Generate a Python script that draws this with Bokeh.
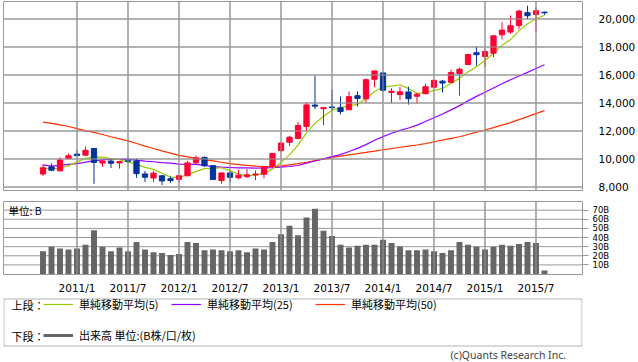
from bokeh.plotting import figure
from bokeh.layouts import column
from bokeh.models import (ColumnDataSource, Range1d, FixedTicker, NumeralTickFormatter,
                          PrintfTickFormatter, Legend, LegendItem, Label, Grid,
                          BoxAnnotation)
from bokeh.core.properties import value
from bokeh.embed import file_html
from bokeh.resources import INLINE

# ---------------- data (monthly) ----------------
months = ["2010/9", "2010/10", "2010/11", "2010/12",
          "2011/1", "2011/2", "2011/3", "2011/4", "2011/5", "2011/6",
          "2011/7", "2011/8", "2011/9", "2011/10", "2011/11", "2011/12",
          "2012/1", "2012/2", "2012/3", "2012/4", "2012/5", "2012/6",
          "2012/7", "2012/8", "2012/9", "2012/10", "2012/11", "2012/12",
          "2013/1", "2013/2", "2013/3", "2013/4", "2013/5", "2013/6",
          "2013/7", "2013/8", "2013/9", "2013/10", "2013/11", "2013/12",
          "2014/1", "2014/2", "2014/3", "2014/4", "2014/5", "2014/6",
          "2014/7", "2014/8", "2014/9", "2014/10", "2014/11", "2014/12",
          "2015/1", "2015/2", "2015/3", "2015/4", "2015/5", "2015/6",
          "2015/7", "2015/8"]

opens = [8927, 9441, 9154, 10030, 10352, 10274, 10754, 9708, 9850, 9719,
         9873, 9860, 8931, 8640, 8800, 8597, 8549, 8797, 9725, 10110,
         9526, 8461, 9003, 8660, 8740, 8862, 8912, 9479, 10604, 11191,
         11469, 12330, 13850, 13593, 13720, 13661, 13520, 14520, 14300, 15693,
         16147, 14750, 14600, 14791, 14485, 14661, 15131, 15560, 15476, 16100,
         16750, 17590, 17325, 17557, 18871, 19068, 19531, 20450, 20329, 20490]
highs = [9626, 9691, 10115, 10394, 10620, 10891, 10768, 9890, 10017, 9845,
         10137, 10040, 9147, 9152, 8857, 8758, 8866, 9866, 10255, 10190,
         9528, 9010, 9137, 9223, 9288, 9179, 9459, 10433, 11167, 11662,
         12650, 14034, 15942, 13711, 14953, 14466, 14817, 14828, 15749, 16320,
         16164, 15050, 15160, 15164, 14710, 15376, 15646, 15650, 16375, 16533,
         17520, 18030, 17865, 18810, 19778, 20252, 20655, 20952, 20841, 20520]
lows = [8796, 9123, 9123, 10026, 10210, 10216, 8227, 9441, 9351, 9318,
        9696, 8656, 8359, 8343, 8135, 8296, 8349, 8796, 9653, 9447,
        8542, 8238, 8328, 8547, 8659, 8488, 8619, 9380, 10486, 10926,
        11405, 12003, 13556, 12415, 13500, 13188, 13500, 13748, 13995, 15140,
        14826, 13995, 14200, 13885, 13964, 14659, 15088, 14753, 15427, 14529,
        16720, 16672, 16592, 17271, 18553, 18935, 19258, 19990, 19115, 20300]
closes = [9369, 9202, 9937, 10229, 10238, 10624, 9755, 9850, 9694, 9816,
          9833, 8955, 8700, 8988, 8435, 8455, 8803, 9723, 10084, 9521,
          8543, 9007, 8695, 8840, 8870, 8928, 9446, 10395, 11139, 11559,
          12398, 13861, 13775, 13677, 13668, 13389, 14456, 14328, 15662, 16291,
          14915, 14841, 14800, 14304, 14632, 15162, 15621, 15425, 16174, 16414,
          17460, 17451, 17674, 18798, 19207, 19520, 20563, 20236, 20585, 20440]

ma5 = [9376, 9263, 9374, 9512, 9795, 10046, 10157, 10139, 10032, 9948,
       9790, 9630, 9400, 9258, 8982, 8707, 8676, 8881, 9100, 9317,
       9335, 9376, 9170, 8921, 8791, 8868, 8956, 9296, 9756, 10293,
       10987, 11870, 12546, 13054, 13476, 13674, 13793, 13904, 14301, 14825,
       15130, 15207, 15302, 15030, 14698, 14748, 14904, 15029, 15403, 15759,
       16219, 16585, 17035, 17559, 18118, 18530, 19152, 19665, 20022, 20269]
ma25 = [9578, 9496, 9550, 9619, 9674, 9779, 9867, 9936, 9971, 9983,
        9978, 9922, 9850, 9804, 9740, 9704, 9635, 9616, 9614, 9551,
        9451, 9420, 9393, 9365, 9367, 9349, 9359, 9377, 9413, 9466,
        9537, 9702, 9859, 10018, 10172, 10314, 10534, 10759, 11026, 11341,
        11599, 11840, 12045, 12213, 12418, 12683, 12947, 13216, 13510, 13812,
        14153, 14473, 14764, 15071, 15376, 15661, 15929, 16188, 16464, 16735]
ma50 = [12635, 12540, 12442, 12320, 12170, 12030, 11900, 11750, 11590, 11440,
        11290, 11110, 10920, 10750, 10575, 10420, 10260, 10150, 10040, 9960,
        9870, 9770, 9670, 9600, 9540, 9490, 9450, 9460, 9510, 9580,
        9670, 9770, 9880, 9990, 10110, 10210, 10300, 10390, 10470, 10560,
        10660, 10740, 10840, 10920, 11000, 11100, 11230, 11350, 11470, 11589,
        11751, 11916, 12071, 12242, 12421, 12599, 12815, 13023, 13241, 13453]

volume = [25, 30, 28, 27, 28, 32, 48, 30, 25, 29,
          25, 35, 27, 24, 23, 21, 22, 35, 34, 26,
          27, 26, 25, 26, 24, 28, 27, 35, 43.5, 53,
          42.5, 62, 71.6, 47.4, 41.6, 32, 29, 31, 32, 32,
          37.7, 34, 30, 26, 26, 27, 25, 23, 26, 35,
          32, 30, 27, 30, 32, 31, 33, 35, 34, 4]

tick_labels = ["2011/1", "2011/7", "2012/1", "2012/7", "2013/1",
               "2013/7", "2014/1", "2014/7", "2015/1", "2015/7"]
price_ticks = [8000, 10000, 12000, 14000, 16000, 18000, 20000]
volume_ticks = [10, 20, 30, 40, 50, 60, 70]

# ---------------- styles ----------------
UP = "#FF0033"
DOWN = "#003399"
C_MA5 = "#99CC00"
C_MA25 = "#9900FF"
C_MA50 = "#FF3300"
C_VOL = "#666666"
GRID = "#999999"
JP = "Noto Sans CJK JP"
XMIN, XMAX = -4.647, 63.471
P_MIN, P_MAX = 7750, 21250
V_MIN, V_MAX = -0.5, 79.5
FRAME_W, P_H, V_H = 579, 189, 80
X_PX = (XMAX - XMIN) / FRAME_W      # one pixel in month units
P_PX = (P_MAX - P_MIN) / P_H        # one pixel in price units
V_PX = (V_MAX - V_MIN) / V_H        # one pixel in volume units

xs = list(range(len(months)))
colors = [UP if c >= o else DOWN for o, c in zip(opens, closes)]
src = ColumnDataSource(dict(
    x=xs, high=highs, low=lows,
    top=[max(o, c) for o, c in zip(opens, closes)],
    bottom=[min(o, c) for o, c in zip(opens, closes)],
    color=colors, ma5=ma5, ma25=ma25, ma50=ma50, vol=volume))
xt = [months.index(t) for t in tick_labels]

xr = Range1d(XMIN, XMAX)


def drop_auto_grids(p):
    p.center = [r for r in p.center if not isinstance(r, Grid)]


def rules(p, yticks, y_lo, y_hi, y_px, horizontal=True):
    # 1-px tick-aligned rules drawn as thin filled bars, under the data
    xv = list(xt)
    p.vbar(x=xv, width=X_PX, bottom=y_lo, top=y_hi, fill_color=GRID, line_color=None)
    if horizontal:
        yv = list(yticks)
        p.hbar(y=yv, height=y_px, left=XMIN, right=XMAX, fill_color=GRID, line_color=None)
    # same rules once more as polylines on the overlay level (identical pixels)
    mx = [[t, t] for t in xt]
    my = [[y_lo + y_px / 2, y_hi - y_px / 2] for _ in xt]
    if horizontal:
        mx += [[XMIN + X_PX / 2, XMAX - X_PX / 2] for _ in yticks]
        my += [[t, t] for t in yticks]
    p.multi_line(xs=mx, ys=my, line_color=GRID, line_width=1, level="overlay")


# ---------------- price panel ----------------
p1 = figure(width=638, height=196, x_range=xr, y_range=Range1d(P_MIN, P_MAX),
            output_backend="svg", toolbar_location=None,
            x_axis_location=None, y_axis_location="right",
            min_border_left=3, min_border_right=56, min_border_top=1, min_border_bottom=6,
            background_fill_color=None, border_fill_color=None,
            outline_line_color=GRID, outline_line_width=1)
drop_auto_grids(p1)
rules(p1, price_ticks, P_MIN, P_MAX, P_PX)
ya = p1.yaxis[0]
ya.ticker = FixedTicker(ticks=list(price_ticks))
ya.formatter = NumeralTickFormatter(format="0,0")
ya.axis_line_color = None
ya.major_tick_line_color = None
ya.minor_tick_line_color = None
ya.major_label_standoff = 10
ya.major_label_text_font = "DejaVu Sans"
ya.major_label_text_font_size = "10.5px"
ya.major_label_text_color = "#000000"

p1.line("x", "ma50", source=src, line_color=C_MA50, line_width=1.2)
p1.line("x", "ma25", source=src, line_color=C_MA25, line_width=1.2)
p1.line("x", "ma5", source=src, line_color=C_MA5, line_width=1.2)
p1.segment(x0="x", y0="low", x1="x", y1="high", source=src, line_color="color", line_width=1)
p1.vbar(x="x", top="top", bottom="bottom", width=0.62, source=src,
        fill_color="color", line_color="color", line_width=1)

# ---------------- volume panel ----------------
p2 = figure(width=638, height=100, x_range=xr, y_range=Range1d(V_MIN, V_MAX),
            output_backend="svg", toolbar_location=None,
            x_axis_location="below", y_axis_location="right",
            min_border_left=3, min_border_right=56, min_border_top=5, min_border_bottom=15,
            background_fill_color=None, border_fill_color=None,
            outline_line_color=GRID, outline_line_width=1)
drop_auto_grids(p2)
p2.segment(x0=[XMIN] * len(volume_ticks), x1=[XMAX] * len(volume_ticks),
           y0=list(volume_ticks), y1=list(volume_ticks), line_color=GRID, line_width=1)
rules(p2, volume_ticks, V_MIN, V_MAX, V_PX, horizontal=False)
xa = p2.xaxis[0]
xa.ticker = FixedTicker(ticks=list(xt))
xa.major_label_overrides = {i: t for i, t in zip(xt, tick_labels)}
xa.axis_line_color = None
xa.major_tick_line_color = None
xa.minor_tick_line_color = None
xa.major_label_standoff = 1
xa.major_label_text_font = "DejaVu Sans"
xa.major_label_text_font_size = "10.5px"
xa.major_label_text_color = "#000000"
va = p2.yaxis[0]
va.ticker = FixedTicker(ticks=list(volume_ticks))
va.formatter = PrintfTickFormatter(format="%dB")
va.axis_line_color = None
va.major_tick_line_color = GRID
va.major_tick_in = 0
va.major_tick_out = 6
va.minor_tick_line_color = None
va.major_label_standoff = 4
va.major_label_text_font = "DejaVu Sans"
va.major_label_text_font_size = "8.5px"
va.major_label_text_color = "#000000"

p2.vbar(x="x", top="vol", bottom=0, width=0.7, source=src, fill_color=C_VOL, line_color=None)
p2.add_layout(Label(x=XMIN, y=70, x_offset=5, text="単位: B", text_baseline="middle",
                    text_font=JP, text_font_size="10.5px", text_color="#000000"))

# ---------------- legend panel ----------------
p3 = figure(width=638, height=65, x_range=Range1d(0, 632), y_range=Range1d(0, 65),
            output_backend="svg", toolbar_location=None,
            x_axis_location=None, y_axis_location=None,
            min_border_left=3, min_border_right=3, min_border_top=0, min_border_bottom=0,
            background_fill_color=None, border_fill_color=None, outline_line_color=None)
drop_auto_grids(p3)
p3.add_layout(BoxAnnotation(left=0.5, right=631.5, bottom=15.5, top=62.5,
                            fill_alpha=0, line_color="#000000", line_width=1))
# stand-in renderers (kept off-screen) that only provide the legend swatches
r5 = p3.line(x=[-50, -40], y=[-50, -50], line_color=C_MA5, line_width=1.2)
r25 = p3.line(x=[-50, -40], y=[-50, -50], line_color=C_MA25, line_width=1.2)
r50 = p3.line(x=[-50, -40], y=[-50, -50], line_color=C_MA50, line_width=1.2)
rv = p3.line(x=[-50, -40], y=[-50, -50], line_color=C_VOL, line_width=3)


def add_leg(renderer, label, x, y):
    lg = Legend(items=[LegendItem(label=value(label), renderers=[renderer])],
                location=(x, y), orientation="horizontal", padding=0, margin=0, spacing=0,
                glyph_width=30, glyph_height=12, label_height=12, label_standoff=6,
                label_text_font=JP, label_text_font_size="11px", label_text_color="#000000",
                border_line_color=None, background_fill_alpha=0)
    p3.add_layout(lg)


ROW1, ROW2 = 57.0, 25.3
LEG_HALF = 7.5
add_leg(r5, "単純移動平均(5)", 40, ROW1 - LEG_HALF)
add_leg(r25, "単純移動平均(25)", 168, ROW1 - LEG_HALF)
add_leg(r50, "単純移動平均(50)", 312, ROW1 - LEG_HALF)
add_leg(rv, "出来高 単位:(B株/口/枚)", 40, ROW2 - LEG_HALF)
p3.add_layout(Label(x=8.7, y=ROW1, text="上段：", text_baseline="middle",
                    text_font=JP, text_font_size="11px", text_color="#000000"))
p3.add_layout(Label(x=8.7, y=ROW2, text="下段：", text_baseline="middle",
                    text_font=JP, text_font_size="11px", text_color="#000000"))
p3.add_layout(Label(x=614, y=7, text="(c)Quants Research Inc.", text_align="right",
                    text_baseline="alphabetic", text_font="Noto Sans", text_font_size="10.5px",
                    text_color="#444444"))

layout = column(p1, p2, p3)
open("out.html", "w").write(file_html(layout, INLINE))
